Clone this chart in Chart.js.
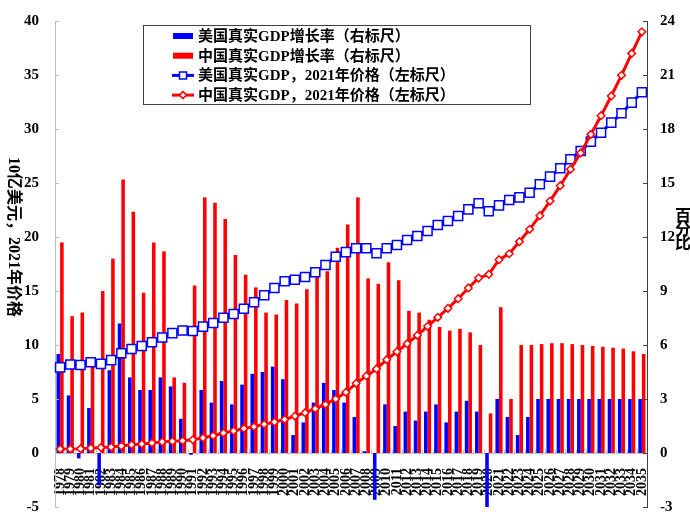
<!DOCTYPE html>
<html lang="zh">
<head>
    <meta charset="UTF-8">
    <title>中美真实GDP</title>
    <style>
        body {
            margin: 0;
            padding: 0;
            background-color: #fff;
        }
        .wrap {
            width: 690px;
            height: 516px;
            position: relative;
        }
    </style>
    <script src="https://cdn.jsdelivr.net/npm/chart.js"></script>
</head>
<body>
    <div class="wrap">
        <canvas id="gdpChart"></canvas>
    </div>

    <script>
        const years = ['1978', '1979', '1980', '1981', '1982', '1983', '1984', '1985', '1986', '1987',
            '1988', '1989', '1990', '1991', '1992', '1993', '1994', '1995', '1996', '1997',
            '1998', '1999', '2000', '2001', '2002', '2003', '2004', '2005', '2006', '2007',
            '2008', '2009', '2010', '2011', '2012', '2013', '2014', '2015', '2016', '2017',
            '2018', '2019', '2020', '2021', '2022', '2023', '2024', '2025', '2026', '2027',
            '2028', '2029', '2030', '2031', '2032', '2033', '2034', '2035'];

        // growth rates, percent (right axis)
        const usGrowth = [5.5, 3.2, -0.3, 2.5, -1.8, 4.6, 7.2, 4.2, 3.5, 3.5,
            4.2, 3.7, 1.9, -0.1, 3.5, 2.8, 4.0, 2.7, 3.8, 4.4,
            4.5, 4.8, 4.1, 1.0, 1.7, 2.8, 3.9, 3.5, 2.8, 2.0,
            0.1, -2.6, 2.7, 1.5, 2.3, 1.8, 2.3, 2.7, 1.7, 2.3,
            2.9, 2.3, -3.4, 3.0, 2.0, 1.0, 2.0, 3.0, 3.0, 3.0,
            3.0, 3.0, 3.0, 3.0, 3.0, 3.0, 3.0, 3.0];
        const chinaGrowth = [11.7, 7.6, 7.8, 5.1, 9.0, 10.8, 15.2, 13.4, 8.9, 11.7,
            11.2, 4.2, 3.9, 9.3, 14.2, 13.9, 13.0, 11.0, 9.9, 9.2,
            7.8, 7.7, 8.5, 8.3, 9.1, 10.0, 10.1, 11.4, 12.7, 14.2,
            9.7, 9.4, 10.6, 9.6, 7.9, 7.8, 7.4, 7.0, 6.8, 6.9,
            6.7, 6.0, 2.2, 8.1, 3.0, 6.0, 6.0, 6.05, 6.1, 6.1,
            6.05, 6.0, 5.95, 5.9, 5.85, 5.8, 5.65, 5.5];

        // real GDP, trillion USD at 2021 prices (left axis)
        const usGdp = [7.93, 8.2, 8.15, 8.4, 8.25, 8.6, 9.23, 9.63, 9.9, 10.25,
            10.7, 11.1, 11.35, 11.3, 11.7, 12.04, 12.53, 12.87, 13.36, 13.95,
            14.6, 15.28, 15.9, 16.05, 16.3, 16.73, 17.41, 18.18, 18.6, 18.95,
            18.95, 18.49, 18.95, 19.26, 19.72, 20.09, 20.56, 21.11, 21.48, 21.94,
            22.56, 23.12, 22.38, 22.93, 23.43, 23.67, 24.1, 24.88, 25.59, 26.36,
            27.19, 27.96, 28.83, 29.66, 30.59, 31.45, 32.44, 33.4];
        const chinaGdp = [0.37, 0.38, 0.4, 0.45, 0.5, 0.56, 0.65, 0.76, 0.84, 0.93,
            1.03, 1.08, 1.13, 1.22, 1.4, 1.6, 1.85, 2.05, 2.27, 2.44,
            2.67, 2.87, 3.1, 3.42, 3.73, 4.1, 4.5, 5.0, 5.62, 6.45,
            7.13, 7.78, 8.64, 9.38, 10.12, 10.9, 11.73, 12.56, 13.4, 14.29,
            15.28, 16.2, 16.54, 17.9, 18.45, 19.57, 20.71, 21.97, 23.33, 24.75,
            26.27, 27.78, 29.5, 31.23, 33.06, 34.97, 37.0, 39.0];

        const leftTicks = [-5, 0, 5, 10, 15, 20, 25, 30, 35, 40];
        const rightTicks = [-3, 0, 3, 6, 9, 12, 15, 18, 21, 24];

        const legendItems = [
            { text: '美国真实GDP增长率（右标尺）', color: '#0000ff', kind: 'bar' },
            { text: '中国真实GDP增长率（右标尺）', color: '#ff0000', kind: 'bar' },
            { text: '美国真实GDP，2021年价格（左标尺）', color: '#0000ff', kind: 'square' },
            { text: '中国真实GDP，2021年价格（左标尺）', color: '#ff0000', kind: 'diamond' }
        ];

        const FONT = "'Liberation Serif', 'Noto Sans CJK SC', serif";

        // titles, custom legend and inward tick marks
        const extras = {
            id: 'extras',
            afterDraw(chart) {
                const ctx = chart.ctx;
                const area = chart.chartArea;
                const yL = chart.scales.y;
                const yR = chart.scales.y1;
                const xs = chart.scales.x;
                ctx.save();

                ctx.lineWidth = 1;
                ctx.strokeStyle = '#bfbfbf';
                leftTicks.forEach(v => {
                    const py = Math.round(yL.getPixelForValue(v)) + 0.5;
                    ctx.beginPath();
                    ctx.moveTo(area.left, py);
                    ctx.lineTo(area.left + 4, py);
                    ctx.stroke();
                });
                const zeroY = Math.round(yL.getPixelForValue(0)) + 0.5;
                const step = (area.right - area.left) / years.length;
                for (let i = 1; i < years.length; i++) {
                    const px = Math.round(xs.getPixelForValue(i) - step / 2) + 0.5;
                    ctx.beginPath();
                    ctx.moveTo(px, zeroY);
                    ctx.lineTo(px, zeroY - 4);
                    ctx.stroke();
                }
                ctx.strokeStyle = '#404040';
                rightTicks.forEach(v => {
                    const py = Math.round(yR.getPixelForValue(v)) + 0.5;
                    ctx.beginPath();
                    ctx.moveTo(area.right, py);
                    ctx.lineTo(area.right - 4, py);
                    ctx.stroke();
                });

                // left axis title, rotated clockwise
                ctx.fillStyle = '#000';
                ctx.font = 'bold 16px ' + FONT;
                ctx.textAlign = 'center';
                ctx.textBaseline = 'middle';
                ctx.translate(13, (area.top + area.bottom) / 2 - 27);
                ctx.rotate(Math.PI / 2);
                ctx.fillText('10亿美元，2021年价格', 0, 0);
                ctx.setTransform(1, 0, 0, 1, 0, 0);

                // right axis title, stacked characters
                ctx.font = 'bold 16px ' + FONT;
                ['百', '分', '比'].forEach((ch, i) => {
                    ctx.fillText(ch, 683, 217 + i * 13.5);
                });

                // legend
                const bx = 143.5, by = 25.5, bw = 387, bh = 79;
                ctx.fillStyle = '#fff';
                ctx.fillRect(bx, by, bw, bh);
                ctx.strokeStyle = '#404040';
                ctx.lineWidth = 1;
                ctx.strokeRect(bx, by, bw, bh);
                ctx.font = 'bold 15px ' + FONT;
                ctx.textAlign = 'left';
                legendItems.forEach((it, i) => {
                    const cy = 36 + i * 19.7;
                    if (it.kind === 'bar') {
                        ctx.fillStyle = it.color;
                        ctx.fillRect(173, cy - 3, 20, 6);
                    } else {
                        ctx.strokeStyle = it.color;
                        ctx.lineWidth = 3;
                        ctx.beginPath();
                        ctx.moveTo(172, cy);
                        ctx.lineTo(194, cy);
                        ctx.stroke();
                        ctx.fillStyle = '#fff';
                        ctx.lineWidth = 1.5;
                        ctx.beginPath();
                        if (it.kind === 'square') {
                            ctx.rect(179.5, cy - 3.5, 7, 7);
                        } else {
                            ctx.moveTo(183, cy - 3.5);
                            ctx.lineTo(186.5, cy);
                            ctx.lineTo(183, cy + 3.5);
                            ctx.lineTo(179.5, cy);
                            ctx.closePath();
                        }
                        ctx.fill();
                        ctx.stroke();
                    }
                    ctx.fillStyle = '#000';
                    ctx.fillText(it.text, 198, cy + 1);
                });
                ctx.restore();
            }
        };

        const noVertPad = s => { s.paddingTop = 0; s.paddingBottom = 0; };

        const ctx = document.getElementById('gdpChart').getContext('2d');
        new Chart(ctx, {
            type: 'bar',
            data: {
                labels: years,
                datasets: [
                    {
                        type: 'line',
                        label: '中国真实GDP，2021年价格（左标尺）',
                        data: chinaGdp,
                        yAxisID: 'y',
                        borderColor: '#ff0000',
                        borderWidth: 3,
                        pointStyle: 'rectRot',
                        pointRadius: 3.8,
                        pointBorderWidth: 1.5,
                        pointBackgroundColor: '#fff',
                        pointBorderColor: '#ff0000',
                        order: 0
                    },
                    {
                        type: 'line',
                        label: '美国真实GDP，2021年价格（左标尺）',
                        data: usGdp,
                        yAxisID: 'y',
                        borderColor: '#0000ff',
                        borderWidth: 3,
                        pointStyle: 'rect',
                        pointRadius: 6.4,
                        pointBorderWidth: 1.5,
                        pointBackgroundColor: '#fff',
                        pointBorderColor: '#0000ff',
                        order: 1
                    },
                    {
                        label: '美国真实GDP增长率（右标尺）',
                        data: usGrowth,
                        yAxisID: 'y1',
                        backgroundColor: '#0000ff',
                        categoryPercentage: 0.7,
                        barPercentage: 1.0,
                        order: 2
                    },
                    {
                        label: '中国真实GDP增长率（右标尺）',
                        data: chinaGrowth,
                        yAxisID: 'y1',
                        backgroundColor: '#ff0000',
                        categoryPercentage: 0.7,
                        barPercentage: 1.0,
                        order: 2
                    }
                ]
            },
            options: {
                responsive: true,
                maintainAspectRatio: false,
                animation: false,
                layout: { padding: { left: 0, right: 0, top: 21, bottom: 9 } },
                plugins: {
                    legend: { display: false },
                    tooltip: { enabled: false }
                },
                scales: {
                    x: {
                        position: { y: 0 },
                        grid: { display: false },
                        border: { color: '#bfbfbf' },
                        ticks: {
                            autoSkip: false,
                            minRotation: 90,
                            maxRotation: 90,
                            padding: 7,
                            color: '#000',
                            font: { family: FONT, size: 14, weight: 'bold' }
                        },
                        afterFit: s => { s.height = 0; }
                    },
                    y: {
                        position: 'left',
                        min: -5,
                        max: 40,
                        grid: { display: false, drawTicks: false },
                        border: { color: '#bfbfbf' },
                        ticks: {
                            stepSize: 5,
                            padding: 16,
                            color: '#000',
                            font: { family: FONT, size: 15, weight: 'bold' }
                        },
                        afterFit: s => { s.width = 55; noVertPad(s); }
                    },
                    y1: {
                        position: 'right',
                        min: -3,
                        max: 24,
                        grid: { display: false, drawTicks: false },
                        border: { color: '#404040' },
                        ticks: {
                            stepSize: 3,
                            padding: 13,
                            color: '#000',
                            font: { family: FONT, size: 15, weight: 'bold' }
                        },
                        afterFit: s => { s.width = 43; noVertPad(s); }
                    }
                }
            },
            plugins: [extras]
        });
    </script>
</body>
</html>
